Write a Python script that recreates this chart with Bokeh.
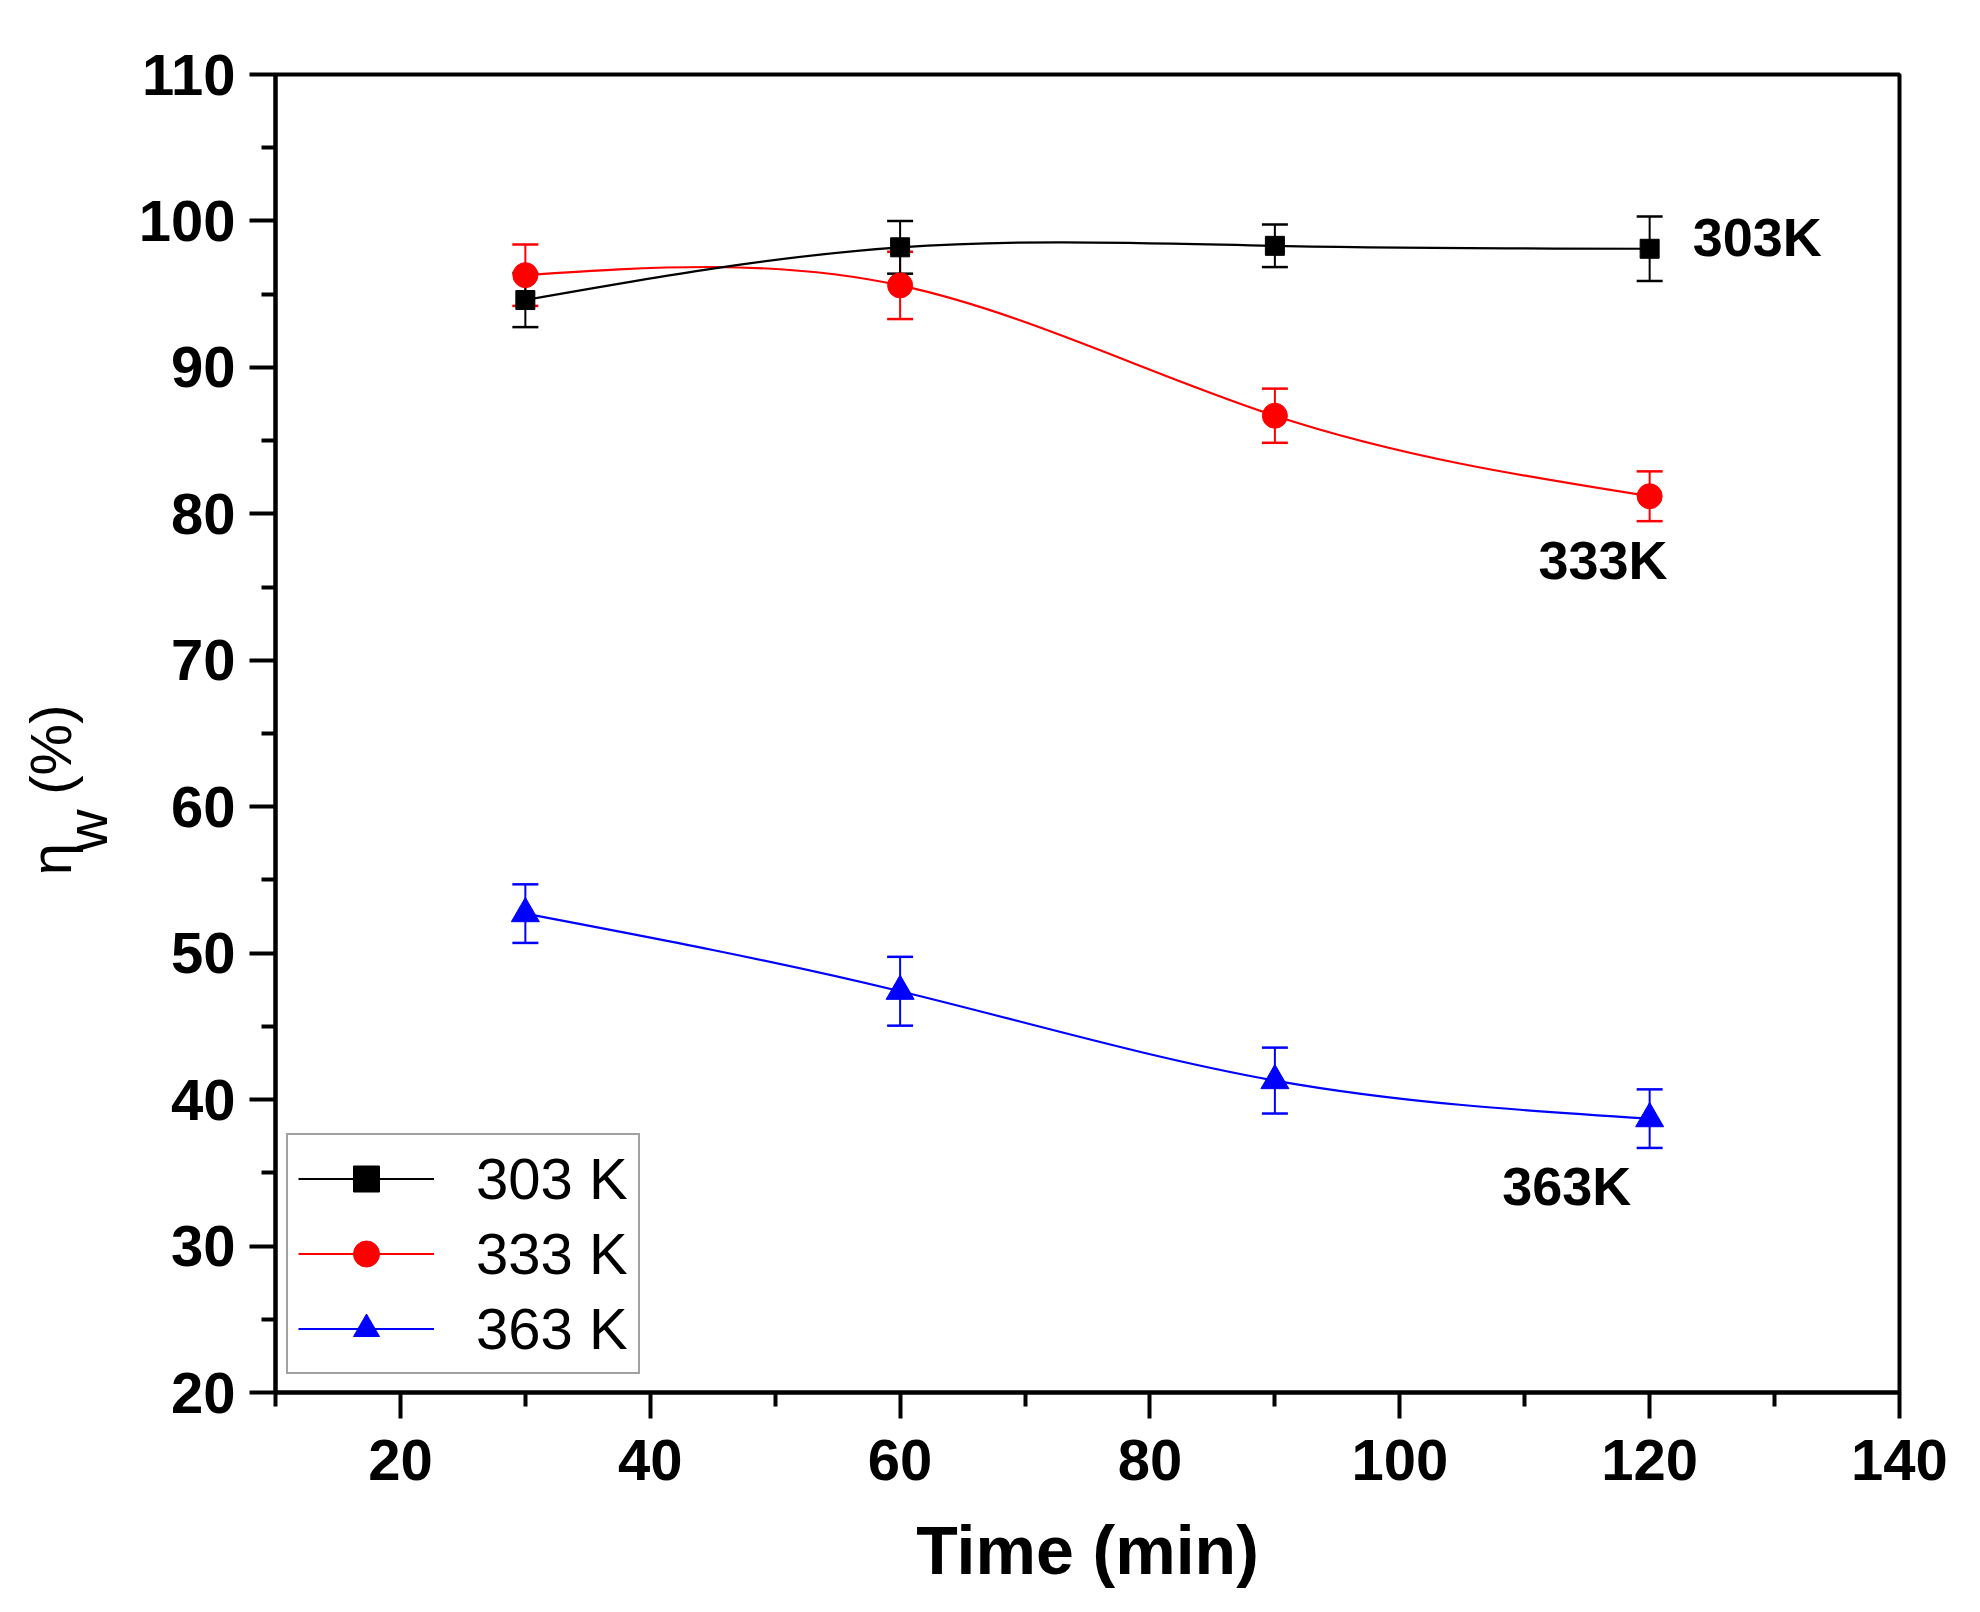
import numpy as np
from bokeh.plotting import figure
from bokeh.models import (ColumnDataSource, Whisker, TeeHead, FixedTicker,
                          Legend, LegendItem, Label, Range1d)
from bokeh.embed import file_html
from bokeh.resources import INLINE

# ---------------- data ----------------
time_min = [30, 60, 90, 120]
eta_303 = [94.6, 98.2, 98.3, 98.1]
err_303 = [1.85, 1.8, 1.45, 2.2]
eta_333 = [96.3, 95.6, 86.7, 81.2]
err_333 = [2.1, 2.3, 1.85, 1.7]
eta_363 = [52.7, 47.4, 41.3, 38.7]
err_363 = [2.0, 2.35, 2.25, 2.0]
series_names = ["303 K", "333 K", "363 K"]
end_labels = ["303K", "333K", "363K"]
x_ticks = [20, 40, 60, 80, 100, 120, 140]
y_ticks = [20, 30, 40, 50, 60, 70, 80, 90, 100, 110]

FONT = "Liberation Sans"
NBSP = "\u00a0"


def spline_segments(x, y):
    """Natural cubic spline through the points, as Bezier segments."""
    x = np.asarray(x, float)
    y = np.asarray(y, float)
    n = len(x)
    h = np.diff(x)
    d = np.diff(y) / h
    A = np.zeros((n, n))
    b = np.zeros(n)
    A[0, 0] = A[-1, -1] = 1.0
    for i in range(1, n - 1):
        A[i, i - 1] = h[i - 1]
        A[i, i] = 2 * (h[i - 1] + h[i])
        A[i, i + 1] = h[i]
        b[i] = 6 * (d[i] - d[i - 1])
    M = np.linalg.solve(A, b)
    s0 = d - h * (2 * M[:-1] + M[1:]) / 6
    s1 = d + h * (M[:-1] + 2 * M[1:]) / 6
    return dict(x0=x[:-1], y0=y[:-1], x1=x[1:], y1=y[1:],
                cx0=x[:-1] + h / 3, cy0=y[:-1] + s0 * h / 3,
                cx1=x[1:] - h / 3, cy1=y[1:] - s1 * h / 3)


p = figure(width=1960, height=1590,
           x_range=Range1d(10, 140), y_range=Range1d(20, 110),
           output_backend="svg", toolbar_location=None,
           min_border_left=275, min_border_right=61,
           min_border_top=74, min_border_bottom=196)
p.grid.visible = False
p.background_fill_color = "white"
p.border_fill_color = "white"
p.outline_line_color = "black"
p.outline_line_width = 4
p.outline_line_alpha = 1.0

# axes
p.xaxis.ticker = FixedTicker(ticks=x_ticks, minor_ticks=[t - 10 for t in x_ticks])
p.yaxis.ticker = FixedTicker(ticks=y_ticks, minor_ticks=[t - 5 for t in y_ticks[1:]])
for ax in (p.xaxis[0], p.yaxis[0]):
    ax.axis_line_width = 4
    ax.axis_line_color = "black"
    ax.major_tick_out = 26
    ax.major_tick_in = 0
    ax.minor_tick_out = 14
    ax.minor_tick_in = 0
    ax.major_tick_line_width = 4
    ax.minor_tick_line_width = 4
    ax.major_tick_line_color = "black"
    ax.minor_tick_line_color = "black"
    ax.major_label_text_font = FONT
    ax.major_label_text_font_size = "58px"
    ax.major_label_text_font_style = "bold"
    ax.major_label_text_color = "black"
p.xaxis.major_label_standoff = 21
p.yaxis.major_label_standoff = 14
p.xaxis.axis_label = "Time (min)"
p.xaxis.axis_label_text_font = FONT
p.xaxis.axis_label_text_font_size = "68px"
p.xaxis.axis_label_text_font_style = "bold"
p.xaxis.axis_label_text_color = "black"
p.xaxis.axis_label_standoff = 29

# y axis title: eta with subscript w, then (%) -- two lines, the second one
# (the subscript) sitting just below the baseline of the first.
p.yaxis.axis_label = "η" + NBSP * 3 + "(%)" + NBSP * 7 + "\n" + "w" + NBSP * 12
p.yaxis.axis_label_text_font = FONT
p.yaxis.axis_label_text_font_size = "58px"
p.yaxis.axis_label_text_font_style = "normal"
p.yaxis.axis_label_text_color = "black"
p.yaxis.axis_label_text_line_height = 0.55
p.yaxis.axis_label_standoff = 17

# series
styles = [
    (eta_303, err_303, "#000000", "square", 19),
    (eta_333, err_333, "#ff0000", "circle", 25),
    (eta_363, err_363, "#0000ff", "triangle", 28),
]
items = []
for (vals, errs, col, mk, sz), name in reversed(list(zip(styles, series_names))):
    src = ColumnDataSource(dict(x=time_min,
                                upper=[v + e for v, e in zip(vals, errs)],
                                lower=[v - e for v, e in zip(vals, errs)]))
    wh = Whisker(base="x", upper="upper", lower="lower", source=src,
                 dimension="height", line_color=col, line_width=2,
                 upper_head=TeeHead(size=26, line_color=col, line_width=2.5),
                 lower_head=TeeHead(size=26, line_color=col, line_width=2.5))
    p.add_layout(wh)
    curve = p.bezier(x0="x0", y0="y0", x1="x1", y1="y1",
                     cx0="cx0", cy0="cy0", cx1="cx1", cy1="cy1",
                     source=ColumnDataSource(spline_segments(time_min, vals)),
                     line_color=col, line_width=2.2)
    pts = p.scatter(time_min, vals, marker=mk, size=sz,
                    fill_color=col, line_color=col)
    items.append(LegendItem(label=name, renderers=[curve, pts]))

legend = Legend(items=list(reversed(items)), location=(11, 18),
                label_text_font=FONT, label_text_font_size="58px",
                label_text_color="black",
                glyph_width=136, glyph_height=65, label_height=65,
                label_standoff=42, spacing=8, padding=10, margin=0,
                border_line_color="#444444", border_line_width=2,
                background_fill_color="white", background_fill_alpha=1.0)
p.add_layout(legend, "center")

# end-of-curve labels
for txt, lx, ly in zip(end_labels, [123.45, 111.1, 108.2], [98.87, 76.83, 34.13]):
    p.add_layout(Label(x=lx, y=ly, text=txt, text_font=FONT,
                       text_font_size="54px", text_font_style="bold",
                       text_color="black", text_align="left",
                       text_baseline="alphabetic"))

open("out.html", "w").write(file_html(p, INLINE))
